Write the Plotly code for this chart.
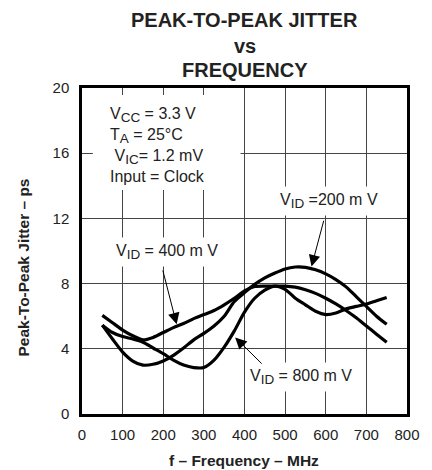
import plotly.graph_objects as go

freq = [50, 75, 100, 125, 150, 175, 200, 225, 250, 275, 300, 325, 350, 375, 400,
        425, 450, 475, 500, 525, 550, 575, 600, 625, 650, 675, 700, 725, 750]

jitter_200mV = [5.45, 4.6, 3.8, 3.25, 3.0, 3.05, 3.25, 3.6, 4.05, 4.55, 4.95, 5.4, 6.0, 6.9, 7.45,
                7.95, 8.35, 8.65, 8.9, 9.02, 9.0, 8.85, 8.6, 8.25, 7.8, 7.2, 6.6, 6.0, 5.5]

jitter_400mV = [6.05, 5.6, 5.15, 4.8, 4.55, 4.7, 5.0, 5.3, 5.55, 5.85, 6.1, 6.35, 6.7, 7.1, 7.55,
                7.82, 7.85, 7.85, 7.85, 7.78, 7.62, 7.4, 7.1, 6.75, 6.35, 5.9, 5.4, 4.9, 4.4]

jitter_800mV = [5.45, 5.0, 4.75, 4.6, 4.4, 4.05, 3.7, 3.3, 3.0, 2.85, 2.85, 3.3, 4.1, 5.1, 6.25,
                7.1, 7.6, 7.85, 7.65, 7.1, 6.7, 6.3, 6.1, 6.2, 6.45, 6.6, 6.75, 6.95, 7.15]

x_ticks = [0, 100, 200, 300, 400, 500, 600, 700, 800]
y_ticks = [0, 4, 8, 12, 16, 20]

FONT = "Arial, Liberation Sans, sans-serif"

fig = go.Figure()
for ys in (jitter_200mV, jitter_400mV, jitter_800mV):
    fig.add_trace(go.Scatter(x=freq, y=ys, mode="lines",
                             line=dict(color="black", width=3.2, shape="spline", smoothing=0.8),
                             showlegend=False, hoverinfo="skip"))

W, H = 432, 470
L, R, T, B = 82, 22, 88, 56
pw, ph = W - L - R, H - T - B


def px2paper(px, py):
    return (px - L) / pw, (H - B - py) / ph


def sub(s):
    return f"<sub><span style='font-size:13.5px'>{s}</span></sub>"


annotations = []
# Title lines
for txt, cy in (("PEAK-TO-PEAK JITTER", 20), ("vs", 46), ("FREQUENCY", 70)):
    xp, yp = px2paper(246, cy)
    annotations.append(dict(text=f"<b>{txt}</b>", xref="paper", yref="paper", x=xp, y=yp,
                            xanchor="center", yanchor="middle", showarrow=False,
                            font=dict(family=FONT, size=20, color="#222")))
# Axis titles
xp, yp = px2paper(245, 460)
annotations.append(dict(text="<b>f – Frequency – MHz</b>", xref="paper", yref="paper", x=xp, y=yp,
                        xanchor="center", yanchor="middle", showarrow=False,
                        font=dict(family=FONT, size=15.5, color="#222")))
xp, yp = px2paper(22, 268)
annotations.append(dict(text="<b>Peak-To-Peak Jitter – ps</b>", xref="paper", yref="paper", x=xp, y=yp,
                        xanchor="center", yanchor="middle", showarrow=False, textangle=-90,
                        font=dict(family=FONT, size=15.5, color="#222")))

# Conditions text block
for txt, cy in (("V" + sub("CC") + " = 3.3 V", 115), ("T" + sub("A") + " = 25°C", 136),
                (" V" + sub("IC") + "= 1.2 mV", 157), ("Input = Clock", 176)):
    xp, yp = px2paper(108, cy)
    annotations.append(dict(text=txt, xref="paper", yref="paper", x=xp, y=yp,
                            xanchor="left", yanchor="middle", showarrow=False,
                            font=dict(family=FONT, size=16, color="#222")))

# Curve labels with white background
for txt, cx, cy in (("V" + sub("ID") + " =200 m V", 331, 201),
                    ("V" + sub("ID") + " = 400 m V", 168, 252),
                    ("V" + sub("ID") + " = 800 m V", 303, 377)):
    xp, yp = px2paper(cx, cy)
    annotations.append(dict(text=txt, xref="paper", yref="paper", x=xp, y=yp,
                            xanchor="center", yanchor="middle", showarrow=False,
                            bgcolor="white", borderpad=4,
                            font=dict(family=FONT, size=16, color="#222")))

# Arrows (tip on curve, tail at label)
for tip_x, tip_y, tail_x, tail_y in ((565, 9.05, 596, 11.95),
                                     (233, 5.5, 198, 8.9),
                                     (377, 4.7, 446, 3.0)):
    annotations.append(dict(text="", x=tip_x, y=tip_y, ax=tail_x, ay=tail_y,
                            xref="x", yref="y", axref="x", ayref="y",
                            showarrow=True, arrowhead=2, arrowsize=2.3, arrowwidth=1,
                            arrowcolor="black"))

# White mask behind the conditions block
x0p, y1p = px2paper(93, 95)
x1p, y0p = px2paper(242, 190)
shapes = [dict(type="rect", xref="paper", yref="paper", x0=x0p, x1=x1p, y0=y0p, y1=y1p,
               fillcolor="white", line=dict(width=0), layer="above")]

fig.update_layout(
    width=W, height=H,
    margin=dict(l=L, r=R, t=T, b=B),
    paper_bgcolor="white", plot_bgcolor="white",
    annotations=annotations, shapes=shapes,
    font=dict(family=FONT, color="#222"),
    xaxis=dict(range=[0, 800], tickvals=x_ticks, ticktext=[str(v) for v in x_ticks],
               showgrid=True, gridcolor="#444", gridwidth=1, zeroline=False,
               showline=True, linecolor="black", linewidth=2.5, mirror=True,
               ticks="", ticklabelstandoff=5,
               tickfont=dict(family=FONT, size=15, color="#222")),
    yaxis=dict(range=[0, 20], tickvals=y_ticks, ticktext=[str(v) for v in y_ticks],
               showgrid=True, gridcolor="#444", gridwidth=1, zeroline=False,
               showline=True, linecolor="black", linewidth=2.5, mirror=True,
               ticks="", ticklabelstandoff=7,
               tickfont=dict(family=FONT, size=15, color="#222")),
)

fig.write_html("out.html")
